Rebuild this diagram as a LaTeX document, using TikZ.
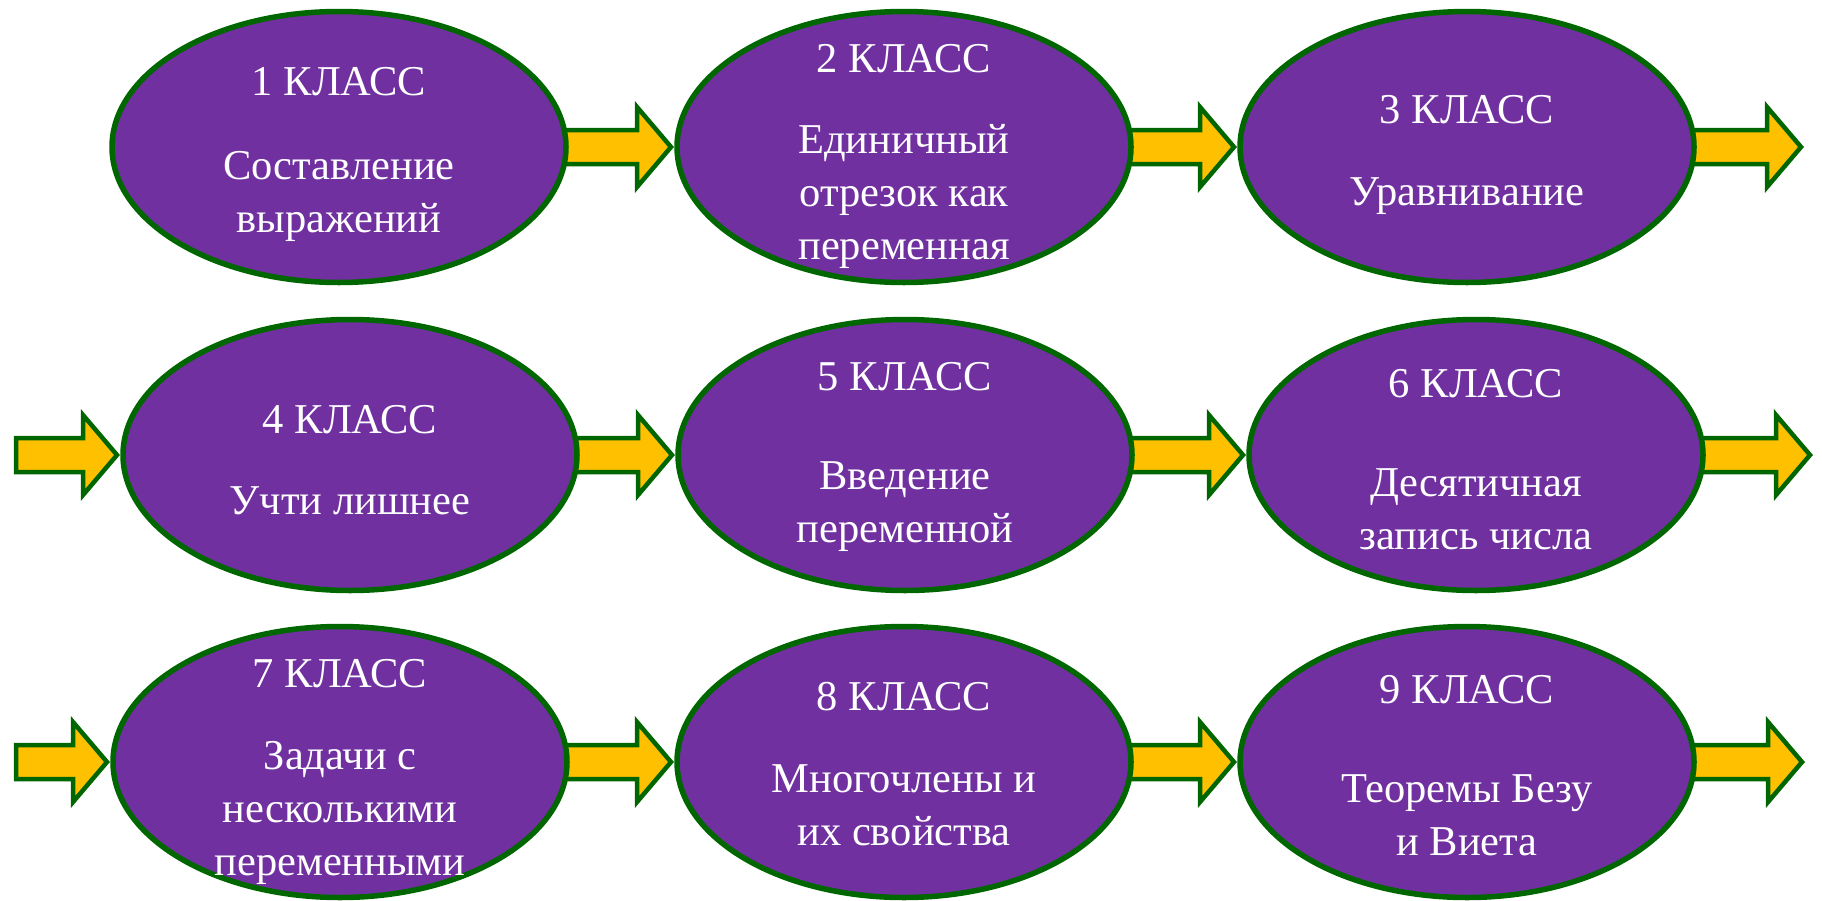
\documentclass[tikz,border=0pt]{standalone}
\usepackage{fontspec}
\setmainfont{Liberation Serif}
\usetikzlibrary{shapes.geometric,calc,backgrounds}
\definecolor{purp}{HTML}{7030A0}
\definecolor{grn}{HTML}{006600}
\definecolor{gold}{HTML}{FFC000}
\newcommand{\blockarrow}[2]{%
  \draw[barrow] let \p1=(#1), \p2=(#2) in
    (\x1-4pt,\y2+17pt) -- (\x2-40pt,\y2+17pt) -- (\x2-40pt,\y2+40pt) --
    (\x2-6pt,\y2) -- (\x2-40pt,\y2-40pt) -- (\x2-40pt,\y2-17pt) --
    (\x1-4pt,\y2-17pt) -- cycle;}
\begin{document}
\begin{tikzpicture}[x=1pt,y=-1pt,
  cls/.style={ellipse,draw=grn,fill=purp,line width=5.5pt,
    minimum width=454pt,minimum height=271pt,inner sep=0pt,outer sep=0pt},
  ttl/.style={text=white,font=\fontsize{42.5}{53}\selectfont,anchor=base,inner sep=0pt},
  body/.style={ttl,align=center},
  barrow/.style={draw=grn,fill=gold,line width=4.5pt,line join=miter}]
\useasboundingbox (0,0) rectangle (1822,900);

% ellipses
\node[cls] (e1) at (339,147) {};
\node[cls] (e2) at (904,147) {};
\node[cls] (e3) at (1467,147) {};
\node[cls] (e4) at (350,455) {};
\node[cls] (e5) at (905,455) {};
\node[cls] (e6) at (1476,455) {};
\node[cls] (e7) at (340,762) {};
\node[cls] (e8) at (904,762) {};
\node[cls] (e9) at (1467,762) {};

% free ends
\coordinate (in4) at (20,455);
\coordinate (in7) at (20,762);
\coordinate (out3) at (1807,147);
\coordinate (out6) at (1816,455);
\coordinate (out9) at (1808,762);

\begin{pgfonlayer}{background}
\blockarrow{e1.east}{e2.west}
\blockarrow{e2.east}{e3.west}
\blockarrow{e3.east}{out3}
\blockarrow{in4}{e4.west}
\blockarrow{e4.east}{e5.west}
\blockarrow{e5.east}{e6.west}
\blockarrow{e6.east}{out6}
\blockarrow{in7}{e7.west}
\blockarrow{e7.east}{e8.west}
\blockarrow{e8.east}{e9.west}
\blockarrow{e9.east}{out9}
\end{pgfonlayer}

% texts (body nodes anchored at the baseline of their last line)
\node[ttl] (t1) at (339,95) {1 КЛАСС};
\node[body] (b1) at (339,232) {Составление\\выражений};
\node[ttl] (t2) at (904,72) {2 КЛАСС};
\node[body] (b2) at (904,259) {Единичный\\отрезок как\\переменная};
\node[ttl] (t3) at (1467,123) {3 КЛАСС};
\node[body] (b3) at (1467,205) {Уравнивание};
\node[ttl] (t4) at (350,433) {4 КЛАСС};
\node[body] (b4) at (350,514) {Учти лишнее};
\node[ttl] (t5) at (905,390) {5 КЛАСС};
\node[body] (b5) at (905,542) {Введение\\переменной};
\node[ttl] (t6) at (1476,397) {6 КЛАСС};
\node[body] (b6) at (1476,549) {Десятичная\\запись числа};
\node[ttl] (t7) at (340,687) {7 КЛАСС};
\node[body] (b7) at (340,875) {Задачи с\\несколькими\\переменными};
\node[ttl] (t8) at (904,710) {8 КЛАСС};
\node[body] (b8) at (904,845) {Многочлены и\\их свойства};
\node[ttl] (t9) at (1467,703) {9 КЛАСС};
\node[body] (b9) at (1467,855) {Теоремы Безу\\и Виета};
\end{tikzpicture}
\end{document}
